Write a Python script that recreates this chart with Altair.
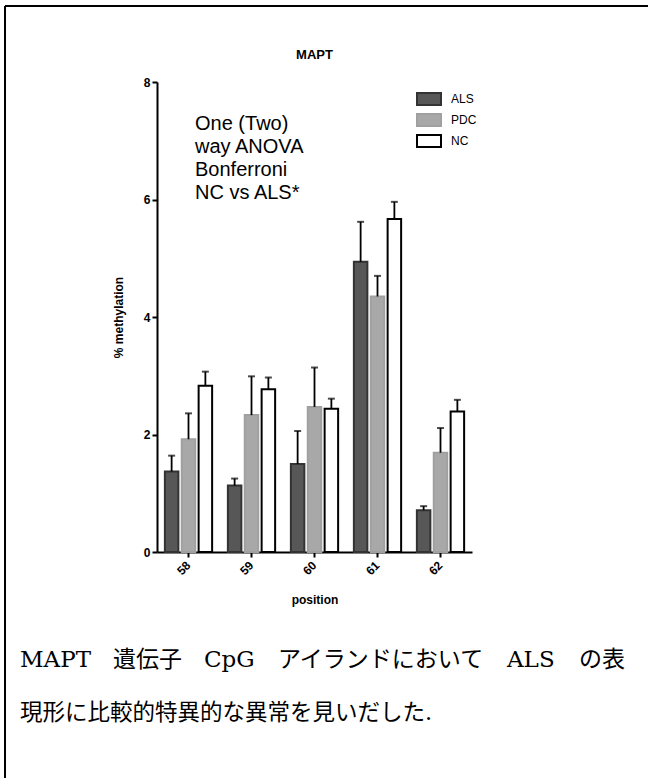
import altair as alt
import pandas as pd

positions = ["58", "59", "60", "61", "62"]
groups = ["ALS", "PDC", "NC"]
als_mean = [1.37, 1.13, 1.50, 4.94, 0.71]
als_err = [0.27, 0.12, 0.56, 0.68, 0.07]
pdc_mean = [1.92, 2.33, 2.47, 4.35, 1.69]
pdc_err = [0.44, 0.66, 0.67, 0.35, 0.42]
nc_mean = [2.83, 2.77, 2.44, 5.67, 2.39]
nc_err = [0.24, 0.20, 0.17, 0.29, 0.20]

y_ticks = [0, 2, 4, 6, 8]
title_text = "MAPT"
note_lines = ["One (Two)", "way ANOVA", "Bonferroni", "NC vs ALS*"]
caption_line1 = ["MAPT", "遺伝子", "CpG", "アイランドにおいて", "ALS", "の表"]
caption_line1_x = [20, 113, 204, 278, 507, 579]
caption_line2 = "現形に比較的特異的な異常を見いだした."

rows = []
for g, means, errs in [("ALS", als_mean, als_err), ("PDC", pdc_mean, pdc_err), ("NC", nc_mean, nc_err)]:
    for p, m, e in zip(positions, means, errs):
        rows.append({"position": p, "group": g, "mean": m, "upper": m + e})
df = pd.DataFrame(rows)

W, H = 315, 470
LEFT, TOP = 157, 82
CAP_FONT = "DejaVu Serif, Noto Sans CJK JP"

x_enc = alt.X("position:N", sort=positions,
              scale=alt.Scale(paddingInner=0.25, paddingOuter=0.125),
              axis=alt.Axis(title="position", labelAngle=-45, labelAlign="right",
                            labelBaseline="middle", labelPadding=6, titlePadding=18))
xoff = alt.XOffset("group:N", sort=groups, scale=alt.Scale(paddingInner=0.2))
y_scale = alt.Scale(domain=[0, 8], nice=False)

fill_scale = alt.Scale(domain=groups, range=["#575757", "#a8a8a8", "#ffffff"])
stroke_scale = alt.Scale(domain=groups, range=["#333333", "#a0a0a0", "#000000"])

base = alt.Chart(df)

bars = base.mark_bar(strokeWidth=2).encode(
    x=x_enc,
    xOffset=xoff,
    y=alt.Y("mean:Q", scale=y_scale,
            axis=alt.Axis(title="% methylation", values=y_ticks, format="d", grid=False, titlePadding=18)),
    fill=alt.Fill("group:N", scale=fill_scale, sort=groups,
                  legend=alt.Legend(title=None, orient="none", legendX=265, legendY=10, padding=0,
                                    symbolType="M-2,-1H2V1H-2Z", symbolSize=144,
                                    symbolStrokeWidth=2, labelFontSize=12,
                                    labelFont="Liberation Sans", labelColor="black",
                                    labelOffset=15, rowPadding=1)),
    stroke=alt.Stroke("group:N", scale=stroke_scale, sort=groups, legend=None),
)

err_rule = base.mark_rule(color="black", strokeWidth=1.8).encode(
    x=alt.X("position:N", sort=positions), xOffset=xoff,
    y=alt.Y("mean:Q", scale=y_scale), y2="upper:Q",
)
err_cap = base.mark_tick(color="black", thickness=2, size=7, orient="horizontal").encode(
    x=alt.X("position:N", sort=positions), xOffset=xoff,
    y=alt.Y("upper:Q", scale=y_scale),
)

title_mark = alt.Chart(pd.DataFrame({"t": [title_text]})).mark_text(
    font="Liberation Sans", fontWeight="bold", fontSize=13, color="black", baseline="middle"
).encode(x=alt.value(W / 2), y=alt.value(55 - TOP), text="t:N")

note = alt.Chart(pd.DataFrame({"t": [note_lines]})).mark_text(
    font="Liberation Sans", fontSize=20, color="black", align="left", baseline="top", lineHeight=23
).encode(x=alt.value(195 - LEFT), y=alt.value(114 - TOP), text="t")

cap1 = alt.Chart(pd.DataFrame({"t": caption_line1, "xp": [v - LEFT for v in caption_line1_x]})).mark_text(
    font=CAP_FONT, fontSize=23, color="black", align="left", baseline="middle"
).encode(x=alt.X("xp:Q", scale=None), y=alt.value(660 - TOP), text="t:N")

cap2 = alt.Chart(pd.DataFrame({"t": [caption_line2]})).mark_text(
    font=CAP_FONT, fontSize=22.5, color="black", align="left", baseline="middle"
).encode(x=alt.value(20 - LEFT), y=alt.value(713 - TOP), text="t:N")

frame_top = alt.Chart(pd.DataFrame({"a": [0]})).mark_rule(color="black", strokeWidth=2).encode(
    x=alt.value(5 - LEFT), x2=alt.value(648 - LEFT), y=alt.value(6 - TOP))
frame_left = alt.Chart(pd.DataFrame({"a": [0]})).mark_rule(color="black", strokeWidth=2).encode(
    x=alt.value(5 - LEFT), y=alt.value(6 - TOP), y2=alt.value(778 - TOP))

chart = alt.layer(bars, err_rule, err_cap, title_mark, note, cap1, cap2, frame_top, frame_left).properties(
    width=W, height=H,
    autosize=alt.AutoSizeParams(type="none"),
    padding={"left": LEFT, "top": TOP, "right": 648 - LEFT - W, "bottom": 778 - TOP - H},
).configure_view(stroke=None).configure_axis(
    domainColor="black", domainWidth=2, tickColor="black", tickWidth=2, tickSize=5,
    labelFont="Liberation Sans", labelFontWeight="bold", labelFontSize=12, labelColor="black",
    titleFont="Liberation Sans", titleFontWeight="bold", titleFontSize=12, titleColor="black",
)

chart.save("out.html", embed_options={"renderer": "svg", "actions": False})
